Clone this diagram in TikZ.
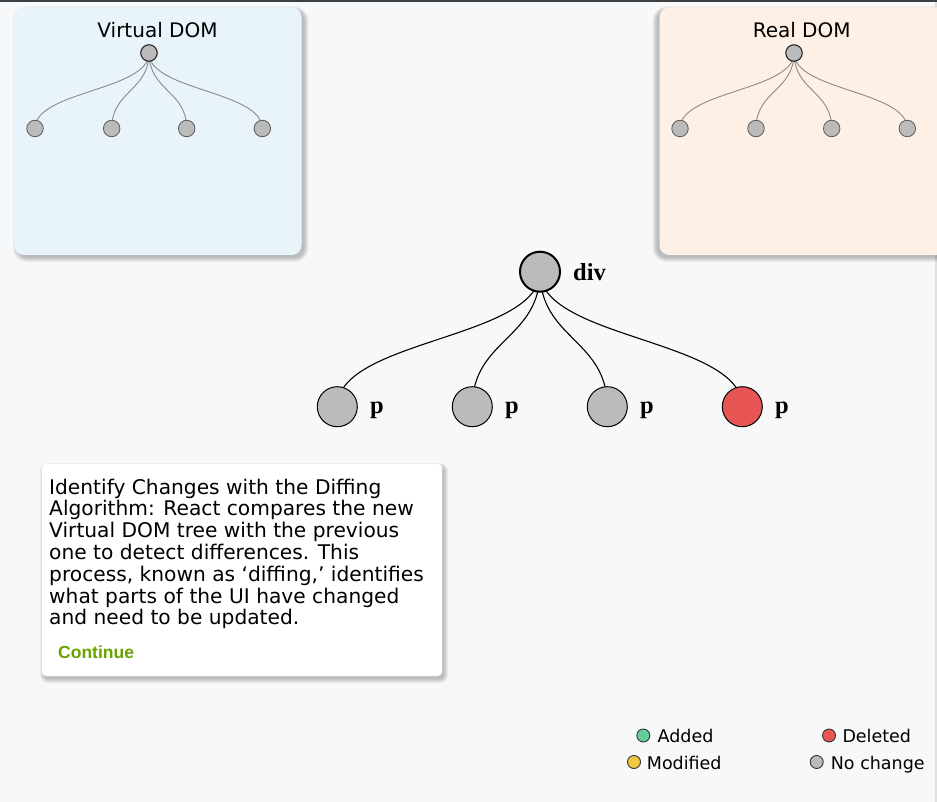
\documentclass[tikz,border=0pt]{standalone}
\usepackage{fontspec}
\setmainfont{DejaVu Sans}
\newfontfamily\labfont{Liberation Serif}
\newfontfamily\btnfont{Liberation Sans}
\definecolor{bg}{HTML}{F7F8FA}
\definecolor{topbar}{HTML}{3C4043}
\definecolor{vpanel}{HTML}{E8F4FA}
\definecolor{rpanel}{HTML}{FFF0E6}
\definecolor{nodegray}{HTML}{BBBBBB}
\definecolor{delred}{HTML}{E85555}
\definecolor{addgreen}{HTML}{66CC99}
\definecolor{modyellow}{HTML}{F2C744}
\definecolor{btngreen}{HTML}{6AA300}
\definecolor{edgegray}{HTML}{8A8A8A}
% soft shadow: x1 y1 x2 y2 dx dy radius
\newcommand\mysoftshadow[7]{%
  \foreach \k in {4,3,2,1,0}{%
    \fill[black, opacity=0.05, rounded corners={#7+\k}]
      ({#1+#5-\k},{#2+#6-\k}) rectangle ({#3+#5+\k},{#4+#6+\k});
  }%
}
\tikzset{
  panel/.style={rounded corners=10pt},
  tiny/.style={circle, draw=black!65, fill=nodegray, line width=0.8pt, minimum size=16.5pt, inner sep=0pt},
  tinyroot/.style={tiny, draw=black!85, line width=1.1pt},
  big/.style={circle, draw=black, fill=nodegray, line width=1pt, minimum size=40pt, inner sep=0pt},
  bigroot/.style={big, line width=2pt},
  lg/.style={circle, draw=black!80, line width=0.9pt, minimum size=13pt, inner sep=0pt},
  tinyedge/.style={draw=edgegray, line width=0.9pt},
  bigedge/.style={draw=black, line width=1.1pt},
  title/.style={font=\fontsize{20}{22}\selectfont, anchor=base, inner sep=0pt},
  tagtxt/.style={font=\labfont\bfseries\fontsize{24.5}{24}\selectfont, anchor=base west, inner sep=0pt},
  bodyline/.style={font=\fontsize{20.2}{21.8}\selectfont, anchor=base west, inner sep=0pt},
  legtxt/.style={font=\fontsize{17.5}{18}\selectfont, anchor=base west, inner sep=0pt},
}
\begin{document}
\begin{tikzpicture}[x=1pt,y=-1pt]
\useasboundingbox (0,0) rectangle (937,802);
\fill[bg] (0,0) rectangle (937,802);
\fill[black!12] (935,0) rectangle (937,802);

% panels
\mysoftshadow{14}{7.5}{301.5}{255}{3}{3}{10}
\mysoftshadow{659.5}{7.5}{950}{255}{-3}{3}{10}
\path[panel, fill=vpanel] (14,7.5) rectangle (301.5,255);
\path[panel, fill=rpanel] (659.5,7.5) rectangle (950,255);
\fill[topbar] (0,0) rectangle (937,2);

\node[title] (vt) at (157.5,37.3) {Virtual DOM};
\node[title] (rt) at (801.7,37.3) {Real DOM};

% small trees: centres
\coordinate (v0c) at (149,53);
\coordinate (r0c) at (794,53);
\foreach \i/\x in {1/35,2/111.7,3/186.7,4/262.3}{
  \coordinate (v\i c) at (\x,128.5);
}
\foreach \i/\x in {1/680,2/756,3/831.7,4/907.3}{
  \coordinate (r\i c) at (\x,128.5);
}
\foreach \i in {1,...,4}{
  \draw[tinyedge] (v0c) .. controls ([yshift=-37.75pt]v0c) and ([yshift=37.75pt]v\i c) .. (v\i c);
  \draw[tinyedge] (r0c) .. controls ([yshift=-37.75pt]r0c) and ([yshift=37.75pt]r\i c) .. (r\i c);
}
\node[tinyroot] (v0) at (v0c) {};
\node[tinyroot] (r0) at (r0c) {};
\foreach \i in {1,...,4}{
  \node[tiny] (v\i) at (v\i c) {};
  \node[tiny] (r\i) at (r\i c) {};
}

% main tree
\coordinate (dc) at (540,271.7);
\coordinate (p1c) at (337.3,406.7);
\coordinate (p2c) at (472.3,406.7);
\coordinate (p3c) at (607.3,406.7);
\coordinate (p4c) at (742.3,406.7);
\foreach \i in {1,...,4}{
  \draw[bigedge] (dc) .. controls ([yshift=-67.5pt]dc) and ([yshift=67.5pt]p\i c) .. (p\i c);
}
\node[bigroot] (div) at (dc) {};
\node[big] (p1) at (p1c) {};
\node[big] (p2) at (p2c) {};
\node[big] (p3) at (p3c) {};
\node[big, fill=delred] (p4) at (p4c) {};
\node[tagtxt] (divl) at (573,281) {div};
\node[tagtxt] (p1l) at (370,413.5) {p};
\node[tagtxt] (p2l) at (505,413.5) {p};
\node[tagtxt] (p3l) at (640,413.5) {p};
\node[tagtxt] (p4l) at (775,413.5) {p};

% text box
\mysoftshadow{42}{464}{442}{676}{2}{3}{4}
\path[fill=white, rounded corners=4pt] (42,464) rectangle (442,676);
\node[bodyline] (l1) at (49,494) {Identify Changes with the Diffing};
\node[bodyline] (l2) at (49,515.8) {Algorithm: React compares the new};
\node[bodyline] (l3) at (49,537.6) {Virtual DOM tree with the previous};
\node[bodyline] (l4) at (49,559.4) {one to detect differences. This};
\node[bodyline] (l5) at (49,581.2) {process, known as ‘diffing,’ identifies};
\node[bodyline] (l6) at (49,603) {what parts of the UI have changed};
\node[bodyline] (l7) at (49,624.8) {and need to be updated.};
\node[font=\btnfont\bfseries\fontsize{17.5}{18}\selectfont, text=btngreen, anchor=base west, inner sep=0pt] (cont) at (58,658.3) {Continue};

% legend
\node[lg, fill=addgreen] (ga) at (643.3,735.5) {};
\node[legtxt] (ta) at (657.5,742.3) {Added};
\node[lg, fill=delred] (gd) at (829,735.5) {};
\node[legtxt] (td) at (842.3,742.3) {Deleted};
\node[lg, fill=modyellow] (gm) at (634,762) {};
\node[legtxt] (tm) at (646.7,769.3) {Modified};
\node[lg, fill=nodegray] (gn) at (816.7,762) {};
\node[legtxt] (tn) at (830.7,769.3) {No change};
\end{tikzpicture}
\end{document}
